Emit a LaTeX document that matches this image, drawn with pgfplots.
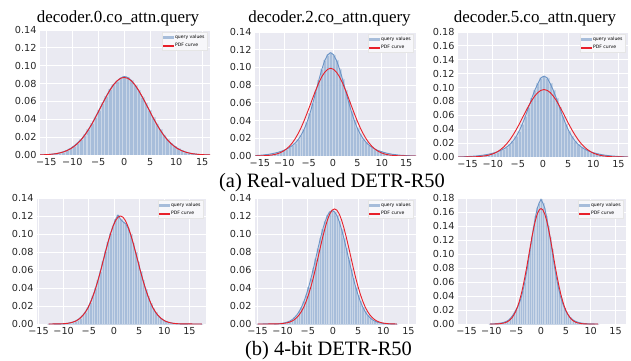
\documentclass[border=0pt]{standalone}
\usepackage{fontspec}
\setmainfont{Liberation Serif}
\newfontfamily\dejavu{DejaVu Sans}
\usepackage{pgfplots}
\usepackage{pgfplotstable}
\pgfplotsset{compat=1.18}
\definecolor{bgc}{HTML}{EAEAF2}
\definecolor{barc}{HTML}{A7BDDA}
\definecolor{stripe}{HTML}{C9D6E7}
\definecolor{kdec}{HTML}{6A93C6}
\definecolor{redc}{HTML}{E8202A}
\definecolor{labc}{HTML}{262626}

\pgfplotstableread{
x h p
-16.2 0 0.0001
-15.84 0.0002 0.0002
-15.15 0.0004 0.0004
-14.46 0.0006 0.0006
-13.77 0.0010 0.0010
-13.08 0.0016 0.0015
-12.39 0.0024 0.0023
-11.70 0.0036 0.0034
-11.02 0.0052 0.0049
-10.33 0.0073 0.0069
-9.64 0.0102 0.0096
-8.95 0.0136 0.0130
-8.26 0.0177 0.0172
-7.57 0.0228 0.0223
-6.89 0.0286 0.0282
-6.20 0.0352 0.0349
-5.51 0.0428 0.0423
-4.82 0.0505 0.0501
-4.13 0.0585 0.0580
-3.44 0.0660 0.0656
-2.75 0.0733 0.0726
-2.07 0.0790 0.0785
-1.38 0.0828 0.0831
-0.69 0.0862 0.0859
0.00 0.0880 0.0869
0.69 0.0868 0.0859
1.38 0.0835 0.0831
2.07 0.0780 0.0785
2.75 0.0722 0.0726
3.44 0.0650 0.0656
4.13 0.0578 0.0580
4.82 0.0498 0.0501
5.51 0.0420 0.0423
6.20 0.0350 0.0349
6.89 0.0285 0.0282
7.57 0.0226 0.0223
8.26 0.0176 0.0172
8.95 0.0134 0.0130
9.64 0.0100 0.0096
10.33 0.0072 0.0069
11.02 0.0051 0.0049
11.70 0.0035 0.0034
12.39 0.0024 0.0023
13.08 0.0016 0.0015
13.77 0.0010 0.0010
14.46 0.0006 0.0006
15.15 0.0004 0.0004
15.84 0.0002 0.0002
16.5 0 0.0001
}\ta

\pgfplotstableread{
x h p
-16.0 0 0.0000
-15.61 0.0006 0.0001
-15.01 0.0008 0.0001
-14.40 0.0011 0.0003
-13.80 0.0015 0.0004
-13.19 0.0019 0.0007
-12.59 0.0025 0.0011
-11.99 0.0032 0.0017
-11.38 0.0040 0.0026
-10.78 0.0050 0.0038
-10.17 0.0062 0.0056
-9.57 0.0077 0.0079
-8.96 0.0095 0.0109
-8.36 0.0118 0.0148
-7.75 0.0147 0.0196
-7.15 0.0185 0.0254
-6.55 0.0235 0.0321
-5.94 0.0300 0.0398
-5.34 0.0381 0.0482
-4.73 0.0482 0.0570
-4.13 0.0598 0.0660
-3.52 0.0727 0.0747
-2.92 0.0857 0.0827
-2.31 0.0978 0.0895
-1.71 0.1078 0.0946
-1.10 0.1143 0.0979
-0.50 0.1166 0.0990
0.10 0.1143 0.0979
0.71 0.1078 0.0946
1.31 0.0985 0.0895
1.92 0.0870 0.0827
2.52 0.0745 0.0747
3.13 0.0620 0.0660
3.73 0.0505 0.0570
4.34 0.0402 0.0482
4.94 0.0318 0.0398
5.55 0.0250 0.0321
6.15 0.0196 0.0254
6.75 0.0155 0.0196
7.36 0.0123 0.0148
7.96 0.0098 0.0109
8.57 0.0079 0.0079
9.17 0.0063 0.0056
9.78 0.0051 0.0038
10.38 0.0040 0.0026
10.99 0.0032 0.0017
11.59 0.0025 0.0011
12.19 0.0019 0.0007
12.80 0.0015 0.0004
13.40 0.0011 0.0003
14.01 0.0008 0.0001
14.61 0.0006 0.0001
15.22 0.0005 0.0000
15.82 0.0003 0.0000
17.0 0 0.0000
}\tb

\pgfplotstableread{
x h p
-16.9 0 0.0000
-16.44 0.0003 0.0000
-15.83 0.0004 0.0000
-15.21 0.0006 0.0001
-14.60 0.0008 0.0001
-13.98 0.0011 0.0003
-13.36 0.0014 0.0004
-12.75 0.0019 0.0007
-12.13 0.0024 0.0011
-11.51 0.0031 0.0017
-10.90 0.0039 0.0025
-10.28 0.0049 0.0038
-9.66 0.0061 0.0054
-9.05 0.0075 0.0077
-8.43 0.0093 0.0107
-7.81 0.0116 0.0145
-7.20 0.0144 0.0192
-6.58 0.0182 0.0249
-5.97 0.0230 0.0315
-5.35 0.0294 0.0390
-4.73 0.0374 0.0473
-4.12 0.0473 0.0560
-3.50 0.0586 0.0648
-2.88 0.0713 0.0733
-2.27 0.0841 0.0811
-1.65 0.0959 0.0877
-1.03 0.1057 0.0928
-0.42 0.1140 0.0960
0.20 0.1165 0.0971
0.82 0.1140 0.0960
1.43 0.1057 0.0928
2.05 0.0959 0.0877
2.67 0.0841 0.0811
3.28 0.0713 0.0733
3.90 0.0586 0.0648
4.52 0.0473 0.0560
5.13 0.0374 0.0473
5.75 0.0294 0.0390
6.37 0.0230 0.0315
6.98 0.0182 0.0249
7.60 0.0144 0.0192
8.21 0.0116 0.0145
8.83 0.0093 0.0107
9.45 0.0075 0.0077
10.06 0.0061 0.0054
10.68 0.0049 0.0038
11.30 0.0039 0.0025
11.91 0.0031 0.0017
12.53 0.0024 0.0011
13.15 0.0019 0.0007
13.76 0.0014 0.0004
14.38 0.0011 0.0003
15.00 0.0008 0.0001
15.61 0.0006 0.0001
16.23 0.0004 0.0000
16.9 0 0.0000
}\tc

\pgfplotstableread{
x h p
-13.0 0 0.0000
-11.65 0.0001 0.0001
-11.15 0.0001 0.0001
-10.65 0.0002 0.0002
-10.15 0.0003 0.0003
-9.66 0.0005 0.0005
-9.16 0.0008 0.0008
-8.66 0.0014 0.0013
-8.16 0.0022 0.0021
-7.66 0.0033 0.0031
-7.17 0.0048 0.0046
-6.67 0.0070 0.0067
-6.17 0.0099 0.0096
-5.67 0.0136 0.0132
-5.17 0.0183 0.0179
-4.68 0.0242 0.0237
-4.18 0.0313 0.0308
-3.68 0.0395 0.0390
-3.18 0.0488 0.0482
-2.68 0.0590 0.0584
-2.19 0.0697 0.0691
-1.69 0.0805 0.0800
-1.19 0.0910 0.0906
-0.69 0.1005 0.1002
-0.19 0.1090 0.1084
0.30 0.1160 0.1147
0.80 0.1210 0.1187
1.30 0.1165 0.1200
1.80 0.1135 0.1187
2.30 0.1115 0.1147
2.79 0.1070 0.1084
3.29 0.0995 0.1002
3.79 0.0900 0.0906
4.29 0.0798 0.0800
4.79 0.0692 0.0691
5.28 0.0588 0.0584
5.78 0.0487 0.0482
6.28 0.0392 0.0390
6.78 0.0307 0.0308
7.28 0.0234 0.0237
7.77 0.0175 0.0179
8.27 0.0128 0.0132
8.77 0.0093 0.0096
9.27 0.0065 0.0067
9.77 0.0045 0.0046
10.26 0.0030 0.0031
10.76 0.0020 0.0021
11.26 0.0013 0.0013
11.76 0.0008 0.0008
12.26 0.0005 0.0005
12.75 0.0003 0.0003
13.25 0.0002 0.0002
13.75 0.0001 0.0001
14.25 0.0001 0.0001
17.5 0 0.0000
}\td

\pgfplotstableread{
x h p
-15.0 0 0.0000
-11.40 0.0002 0.0001
-10.93 0.0003 0.0002
-10.46 0.0006 0.0003
-10.00 0.0009 0.0006
-9.53 0.0014 0.0009
-9.06 0.0022 0.0014
-8.59 0.0033 0.0022
-8.12 0.0048 0.0033
-7.66 0.0071 0.0049
-7.19 0.0100 0.0072
-6.72 0.0139 0.0102
-6.25 0.0188 0.0141
-5.78 0.0249 0.0191
-5.32 0.0323 0.0253
-4.85 0.0409 0.0328
-4.38 0.0506 0.0415
-3.91 0.0614 0.0514
-3.44 0.0726 0.0623
-2.98 0.0840 0.0737
-2.51 0.0951 0.0853
-2.04 0.1052 0.0965
-1.57 0.1139 0.1068
-1.10 0.1205 0.1156
-0.64 0.1246 0.1223
-0.17 0.1260 0.1265
0.30 0.1246 0.1279
0.77 0.1205 0.1265
1.24 0.1139 0.1223
1.70 0.1052 0.1156
2.17 0.0951 0.1068
2.64 0.0840 0.0965
3.11 0.0726 0.0853
3.58 0.0614 0.0737
4.04 0.0506 0.0623
4.51 0.0409 0.0514
4.98 0.0323 0.0415
5.45 0.0249 0.0328
5.92 0.0188 0.0253
6.38 0.0139 0.0191
6.85 0.0100 0.0141
7.32 0.0071 0.0102
7.79 0.0048 0.0072
8.26 0.0033 0.0049
8.72 0.0022 0.0033
9.19 0.0014 0.0022
9.66 0.0009 0.0014
10.13 0.0006 0.0009
10.60 0.0003 0.0006
11.06 0.0002 0.0003
11.53 0.0001 0.0002
12.00 0.0001 0.0001
12.7 0 0.0000
}\te

\pgfplotstableread{
x h p
-10.3 0 0.0000
-10.16 0.0001 0.0000
-9.80 0.0002 0.0000
-9.44 0.0004 0.0000
-9.08 0.0005 0.0001
-8.71 0.0007 0.0002
-8.35 0.0011 0.0004
-7.99 0.0015 0.0007
-7.62 0.0021 0.0012
-7.26 0.0029 0.0018
-6.90 0.0040 0.0028
-6.53 0.0056 0.0043
-6.17 0.0080 0.0064
-5.81 0.0112 0.0093
-5.45 0.0150 0.0131
-5.08 0.0198 0.0182
-4.72 0.0240 0.0246
-4.36 0.0300 0.0326
-3.99 0.0374 0.0423
-3.63 0.0477 0.0535
-3.27 0.0599 0.0663
-2.90 0.0739 0.0803
-2.54 0.0895 0.0950
-2.18 0.1064 0.1100
-1.82 0.1235 0.1245
-1.45 0.1398 0.1377
-1.09 0.1542 0.1490
-0.73 0.1659 0.1576
-0.36 0.1730 0.1631
0.00 0.1780 0.1649
0.36 0.1730 0.1631
0.73 0.1659 0.1576
1.09 0.1542 0.1490
1.45 0.1398 0.1377
1.82 0.1235 0.1245
2.18 0.1064 0.1100
2.54 0.0895 0.0950
2.90 0.0739 0.0803
3.27 0.0599 0.0663
3.63 0.0477 0.0535
3.99 0.0374 0.0423
4.36 0.0294 0.0326
4.72 0.0226 0.0246
5.08 0.0173 0.0182
5.45 0.0131 0.0131
5.81 0.0098 0.0093
6.17 0.0074 0.0064
6.53 0.0054 0.0043
6.90 0.0040 0.0028
7.26 0.0029 0.0018
7.62 0.0021 0.0012
7.99 0.0015 0.0007
8.35 0.0011 0.0004
8.71 0.0007 0.0002
9.08 0.0005 0.0001
9.44 0.0004 0.0000
9.80 0.0002 0.0000
10.16 0.0001 0.0000
10.53 0.0001 0.0000
11.5 0 0.0000
}\tf

\pgfplotsset{
  sns/.style={
    scale only axis,
    axis background/.style={fill=bgc},
    axis line style={draw=none},
    grid=major,
    major grid style={white, line width=0.8bp},
    major tick length=0pt,
    tick label style={font=\dejavu\fontsize{9.7}{10}\selectfont, text=labc},
    xtick={-15,-10,-5,0,5,10,15},
    xticklabels={−15,−10,−5,0,5,10,15},
    ymin=0,
    legend style={at={(0.985,0.985)}, anchor=north east,
      font=\dejavu\fontsize{4.6}{5}\selectfont,
      draw=white!80!gray, fill=bgc!40!white, line width=0.3bp,
      inner sep=0.7bp, row sep=-0.6bp},
    legend cell align=left,
  },
  y14/.style={ymax=0.14, ytick={0,0.02,0.04,0.06,0.08,0.10,0.12,0.14},
    yticklabels={0.00,0.02,0.04,0.06,0.08,0.10,0.12,0.14}},
  y18/.style={ymax=0.18, ytick={0,0.02,0.04,0.06,0.08,0.10,0.12,0.14,0.16,0.18},
    yticklabels={0.00,0.02,0.04,0.06,0.08,0.10,0.12,0.14,0.16,0.18}},
}
\pgfplotsset{
  barleg/.style={legend image code/.code={\fill[barc] (0bp,-1.3bp) rectangle (10bp,1.3bp);}},
  redleg/.style={legend image code/.code={\fill[redc] (0bp,-0.5bp) rectangle (10bp,0.5bp);}},
}

\newcommand{\panel}[2]{%
  \addplot[ybar, bar width=#2, bar shift=0pt, fill=barc, draw=stripe, line width=0.25bp, forget plot] table[x=x,y=h] {#1};
  \addplot[kdec, line width=0.9bp, forget plot] table[x=x,y=h] {#1};
  \addplot[redc, line width=0.9bp, forget plot] table[x=x,y=p] {#1};
  \addlegendimage{barleg}
  \addlegendentry{query values}
  \addlegendimage{redleg}
  \addlegendentry{PDF curve}
}

\begin{document}
\begin{tikzpicture}[x=1bp, y=1bp]
\useasboundingbox (0,0) rectangle (631,360);

\begin{axis}[sns, y14, at={(40bp,205bp)}, width=170bp, height=125bp, xmin=-16.2, xmax=16.5]
\panel{\ta}{0.6885}
\end{axis}
\begin{axis}[sns, y14, at={(255bp,204bp)}, width=161bp, height=124bp, xmin=-16.0, xmax=17.0]
\panel{\tb}{0.6045}
\end{axis}
\begin{axis}[sns, y18, at={(458bp,203bp)}, width=170bp, height=125bp, xmin=-16.9, xmax=16.9]
\panel{\tc}{0.6165}
\end{axis}

\begin{axis}[sns, y14, at={(37bp,36bp)}, width=169bp, height=126bp, xmin=-15.3, xmax=18.3]
\panel{\td}{0.498}
\end{axis}
\begin{axis}[sns, y14, at={(255bp,36bp)}, width=161bp, height=126bp, xmin=-15.5, xmax=16.5]
\panel{\te}{0.468}
\end{axis}
\begin{axis}[sns, y18, at={(458bp,36bp)}, width=168bp, height=126bp, xmin=-16.7, xmax=17.1]
\panel{\tf}{0.363}
\end{axis}

\node[anchor=base, font=\fontsize{17}{19}\selectfont] at (118,338) {decoder.0.co\_attn.query};
\node[anchor=base, font=\fontsize{17}{19}\selectfont] at (329.5,338) {decoder.2.co\_attn.query};
\node[anchor=base, font=\fontsize{17}{19}\selectfont] at (535,338) {decoder.5.co\_attn.query};
\node[anchor=base, font=\fontsize{20.5}{22}\selectfont] at (332,173) {(a) Real-valued DETR-R50};
\node[anchor=base, font=\fontsize{20.5}{22}\selectfont] at (328.5,5) {(b) 4-bit DETR-R50};
\end{tikzpicture}
\end{document}
